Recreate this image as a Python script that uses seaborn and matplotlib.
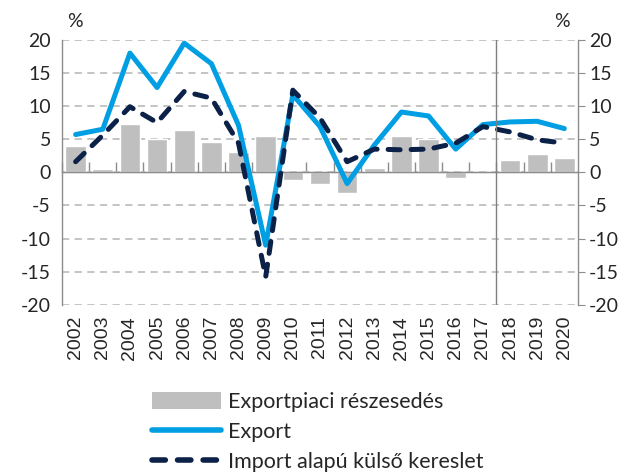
import numpy as np
import pandas as pd
import matplotlib
matplotlib.use("Agg")
import matplotlib.pyplot as plt
import seaborn as sns
from matplotlib.patches import Patch
from matplotlib.lines import Line2D

years = [str(y) for y in range(2002, 2021)]
share = [4.0, 0.5, 7.3, 5.0, 6.4, 4.6, 3.1, 5.5, -1.2, -1.7, -3.2, 0.6, 5.5, 5.0, -0.9, 0.0, 1.8, 2.7, 2.2]
export = [5.7, 6.5, 18.0, 12.8, 19.5, 16.4, 7.1, -11.0, 11.7, 6.9, -1.7, 4.1, 9.1, 8.5, 3.5, 7.2, 7.6, 7.7, 6.6]
imports = [1.6, 5.6, 9.9, 7.5, 12.2, 11.2, 4.4, -15.8, 12.4, 8.2, 1.6, 3.5, 3.4, 3.5, 4.4, 6.9, 6.1, 4.9, 4.4]
yticks = [20, 15, 10, 5, 0, -5, -10, -15, -20]
labels = ["Exportpiaci részesedés", "Export", "Import alapú külső kereslet"]

sns.set_style("white")
plt.rcParams["font.family"] = ["Lato", "DejaVu Sans"]

df = pd.DataFrame({"year": years, "share": share, "export": export, "import": imports})
df["pos"] = np.arange(len(years))

fig = plt.figure(figsize=(6.33, 4.74), dpi=100)
ax = fig.add_axes([0.098, 0.357, 0.815, 0.559])

gray = "#BFBFBF"
blue = "#009FE3"
navy = "#0C2148"
axc = "#8C8C8C"
dash = [2.4, 2.2]

sns.barplot(data=df, x="pos", y="share", color=gray, width=0.76, ax=ax, saturation=1, native_scale=True)
sns.lineplot(data=df, x="pos", y="export", color=blue, lw=3.6, ax=ax)
ax.lines[-1].set_solid_capstyle("round")
sns.lineplot(data=df, x="pos", y="import", color=navy, lw=3.6, ax=ax)
ln = ax.lines[-1]
ln.set_dashes(dash)
ln.set_dash_capstyle("round")

ax.set_xlim(-0.5, len(years) - 0.5)
ax.set_ylim(-20, 20)
ax.set_yticks(yticks)
ax.set_yticklabels([str(v) for v in yticks])
ax.set_xticks(df["pos"])
ax.set_xticklabels(years, rotation=90, fontfamily=["Liberation Sans"], fontsize=14)
ax.tick_params(axis="x", length=0, pad=8)
ax.tick_params(axis="y", direction="out", length=5, color=axc, labelsize=14, labelright=True, right=True, pad=3)
ax.set_xlabel("")
ax.set_ylabel("")
ax.grid(axis="y", color="#BFBFBF", ls=(0, (4, 3)), lw=1.3)
ax.set_axisbelow(True)

for s in ["top", "bottom"]:
    ax.spines[s].set_visible(False)
for s in ["left", "right"]:
    ax.spines[s].set_color(axc)
    ax.spines[s].set_linewidth(1.0)

ax.axhline(0, color=axc, lw=1.0, zorder=1.5)
sec = ax.secondary_xaxis(0.5)
sec.set_xticks(df["pos"] - 0.5)
sec.set_xticklabels([])
sec.tick_params(axis="x", direction="out", length=7, width=1.0, color=axc)
sec.spines["bottom"].set_color(axc)
sec.spines["bottom"].set_linewidth(1.0)

ax.axvline(len(years) - 3 - 0.5, color="#7F7F7F", lw=1.0)

fig.text(0.118, 0.955, "%", fontsize=14, ha="center", va="center")
fig.text(0.888, 0.955, "%", fontsize=14, ha="center", va="center")

handles = [Patch(facecolor=gray, edgecolor="none"),
           Line2D([], [], color=blue, lw=4, solid_capstyle="round"),
           Line2D([], [], color=navy, lw=4, dashes=dash, dash_capstyle="round")]
fig.legend(handles, labels, loc="center left", bbox_to_anchor=(0.24, 0.089), frameon=False,
           fontsize=15.5, handlelength=3.2, handleheight=0.8, handletextpad=0.35, labelspacing=0.45,
           borderpad=0, borderaxespad=0)

fig.savefig("out.png", dpi=100)
